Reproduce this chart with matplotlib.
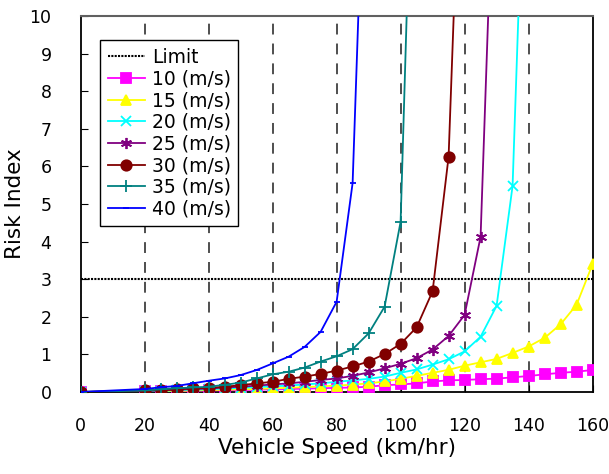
import numpy as np
import matplotlib
matplotlib.use("Agg")
from matplotlib import pyplot as plt

plt.rcParams['font.family'] = ['DejaVu Sans']

# vehicle speed (km/h) where each curve has a marker
speed = [0, 20, 25, 30, 35, 40, 45, 50, 55, 60, 65, 70, 75, 80,
         85, 90, 95, 100, 105, 110, 115, 120, 125, 130, 135, 140,
         145, 150, 155, 160]

# risk index per wind speed (values above 10 run off the top of the chart)
risk_10 = [0, 0.015, 0.02, 0.025, 0.03, 0.04, 0.045, 0.05, 0.06, 0.07, 0.08,
           0.09, 0.10, 0.11, 0.12, 0.14, 0.18, 0.20, 0.23, 0.28, 0.31, 0.32,
           0.34, 0.355, 0.39, 0.425, 0.47, 0.51, 0.54, 0.585]
risk_15 = [0, 0.015, 0.02, 0.03, 0.04, 0.05, 0.06, 0.07, 0.08, 0.10, 0.11,
           0.13, 0.15, 0.17, 0.195, 0.23, 0.28, 0.35, 0.43, 0.51, 0.59, 0.70,
           0.79, 0.88, 1.04, 1.21, 1.44, 1.80, 2.32, 3.40]
risk_20 = [0, 0.02, 0.03, 0.05, 0.06, 0.07, 0.09, 0.11, 0.13, 0.15, 0.17,
           0.20, 0.23, 0.27, 0.31, 0.35, 0.41, 0.51, 0.60, 0.73, 0.87, 1.08,
           1.47, 2.29, 5.48, 18.0]
risk_25 = [0, 0.03, 0.04, 0.06, 0.08, 0.09, 0.12, 0.14, 0.17, 0.20, 0.23,
           0.27, 0.32, 0.36, 0.43, 0.52, 0.63, 0.75, 0.90, 1.13, 1.49, 2.05,
           4.13, 16.5]
risk_30 = [0, 0.04, 0.05, 0.07, 0.10, 0.11, 0.14, 0.18, 0.23, 0.27, 0.35,
           0.41, 0.48, 0.57, 0.68, 0.81, 1.01, 1.28, 1.72, 2.68, 6.26, 18.0]
risk_35 = [0, 0.04, 0.07, 0.10, 0.12, 0.14, 0.19, 0.25, 0.36, 0.47, 0.54,
           0.65, 0.81, 0.95, 1.14, 1.56, 2.27, 4.53, 19.0]
risk_40 = [0, 0.08, 0.125, 0.16, 0.23, 0.30, 0.36, 0.45, 0.585, 0.76, 0.94,
           1.20, 1.60, 2.40, 5.56, 18.0]

labels = ['10 (m/s)', '15 (m/s)', '20 (m/s)', '25 (m/s)',
          '30 (m/s)', '35 (m/s)', '40 (m/s)']
series = [risk_10, risk_15, risk_20, risk_25, risk_30, risk_35, risk_40]
colors = ['#FF00FF', '#FFFF00', '#00FFFF', '#800080',
          '#800000', '#008080', '#0000FF']
markers = ['s', '^', 'x', (6, 2, 0), 'o', '+', '_']
msizes = [6.5, 7.5, 7.5, 8, 7.5, 9, 4]

limit = 3
grid_speeds = [20, 40, 60, 80, 100, 120, 140]

fig = plt.figure(figsize=(6.09, 4.74), dpi=100)
ax = fig.add_axes([0.1325, 0.173, 0.8405, 0.793])

for g in grid_speeds:
    ax.axvline(g, color='#404040', lw=1.3, dashes=(6, 5), zorder=1)

ax.axhline(limit, color='black', lw=1.5, ls=(0, (1, 0.6)),
           label='Limit', zorder=2)

for vals, lab, c, m, ms in zip(series, labels, colors, markers, msizes):
    ax.plot(speed[:len(vals)], vals, color=c, marker=m, ms=ms, lw=1.3,
            mew=1.3, label=lab, zorder=3)

ax.set_xlim(0, 160)
ax.set_ylim(0, 10)
ax.set_xticks(np.arange(0, 161, 20))
ax.set_yticks(np.arange(0, 11, 1))
ax.tick_params(direction='in', length=5, labelsize=12.5)
ax.tick_params(axis='x', pad=18)
ax.tick_params(axis='y', pad=21)
ax.spines['top'].set_color('#606060')
ax.spines['top'].set_linewidth(1.5)
for s in ['left', 'right', 'bottom']:
    ax.spines[s].set_linewidth(1.3)

ax.set_xlabel('Vehicle Speed (km/hr)', fontsize=15.5, labelpad=2)
ax.set_ylabel('Risk Index', fontsize=15.5, labelpad=3)

leg = ax.legend(loc='upper left', bbox_to_anchor=(0.038, 0.936),
                borderaxespad=0, fontsize=13.5, fancybox=False,
                framealpha=1, edgecolor='black', labelspacing=0.145,
                handlelength=2.0, handletextpad=0.35, borderpad=0.4)
leg.get_frame().set_linewidth(1.0)

fig.savefig('out.png', dpi=100)
